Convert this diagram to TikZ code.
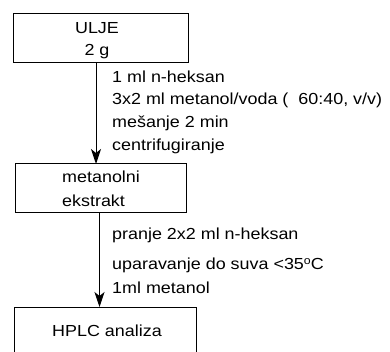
\documentclass[tikz,border=0pt]{standalone}
\usepackage{fontspec}
\setmainfont{Liberation Sans}[FakeStretch=1.12]
\usetikzlibrary{arrows.meta}
\begin{document}
\begin{tikzpicture}[x=1pt,y=-1pt,
  box/.style={draw,line width=1pt,inner sep=0pt},
  lbl/.style={anchor=west,inner sep=0pt,font=\fontsize{16}{18}\selectfont},
  arr/.style={line width=1pt,-{Stealth[length=15pt,width=10pt,inset=4pt]}}]
\useasboundingbox (0,0) rectangle (390,352);
% boxes
\node[box,minimum width=175pt,minimum height=49pt] (b1) at (100.5,38.5) {};
\node[box,minimum width=171pt,minimum height=49pt] (b2) at (100.5,188.5) {};
\draw[line width=1pt] (14,360) |- (196,307) -- (196,360);
\coordinate (b3top) at (99.5,307);
% box texts
\node[lbl,anchor=center] (t1) at (97,28) {ULJE};
\node[lbl,anchor=center] (t2) at (97,52) {2 g};
\node[lbl] (t3) at (62,177) {metanolni};
\node[lbl] (t4) at (62,201) {ekstrakt};
\node[lbl,anchor=center] (t5) at (107,331) {HPLC analiza};
% arrows
\coordinate (a1s) at (96,63);
\coordinate (a1e) at (96,164);
\draw[arr] (a1s) -- (a1e);
\coordinate (a2s) at (99.5,213);
\draw[arr] (a2s) -- (b3top);
% labels
\node[lbl] (l1) at (112,77) {1 ml n-heksan};
\node[lbl] (l2) at (112,100) {3x2 ml metanol/voda (\ \ 60:40, v/v)};
\node[lbl] (l3) at (112,123) {mešanje 2 min};
\node[lbl] (l4) at (112,146) {centrifugiranje};
\node[lbl] (l5) at (112,235) {pranje 2x2 ml n-heksan};
\node[lbl] (l6) at (112,265) {uparavanje do suva <35\raisebox{0.55ex}{\fontsize{11}{11}\selectfont o}C};
\node[lbl] (l7) at (112,288) {1ml metanol};
\end{tikzpicture}
\end{document}
